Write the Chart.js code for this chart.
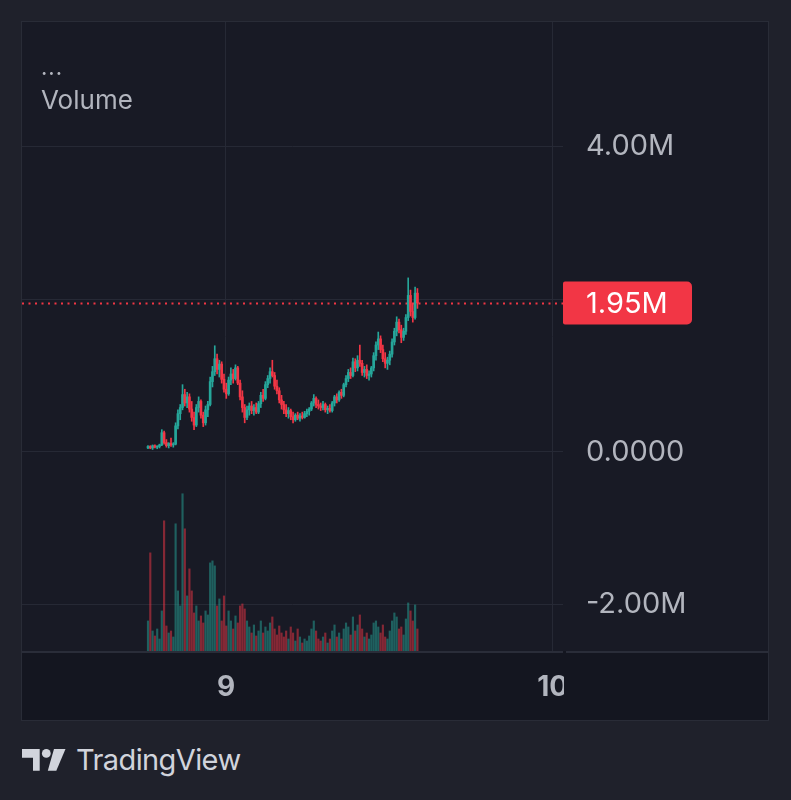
<!DOCTYPE html>
<html><head><meta charset="utf-8">
<script src="https://cdn.jsdelivr.net/npm/chart.js@4.4.1/dist/chart.umd.min.js"></script>
<style>
html,body{margin:0;padding:0;background:#1f212b;width:791px;height:800px;overflow:hidden;font-family:Inter,"Noto Sans",sans-serif}
#panel{position:absolute;left:22px;top:22px;width:746px;height:698px;background:#181a25;box-shadow:0 0 0 1px #292c37}
#c{position:absolute;left:0;top:0}
#dots{position:absolute;left:19px;top:34px;font-size:22px;line-height:22px;color:#b2b5be;letter-spacing:1px}
#vol{position:absolute;left:19px;top:65px;font-size:26px;line-height:26px;color:#b2b5be}
#brand{position:absolute;left:22px;top:742px;height:36px;display:flex;align-items:center;color:#d1d4dc}
#brand span{font-size:29px;line-height:36px;margin-left:10px;letter-spacing:-0.6px}
</style></head>
<body>
<div id="panel"><canvas id="c" width="746" height="698" style="width:746px;height:698px"></canvas>
<div id="dots">...</div><div id="vol">Volume</div></div>
<div id="brand"><svg width="44" height="22" viewBox="0 0 44 22"><path fill="#d1d4dc" d="M0 0H17.7V21.7H11V8.7H0Z"/><circle fill="#d1d4dc" cx="24.3" cy="4.4" r="4.4"/><path fill="#d1d4dc" d="M32 0H43.5L34.3 21.7H25.8Z"/></svg><span>TradingView</span></div>
<script>
// ---- data (price in millions, volume in thousands) ----
const opens  = [0.05,0.07,0.05,0.08,0.06,0.07,0.09,0.25,0.12,0.08,0.11,0.09,0.10,0.34,0.50,0.58,0.75,0.64,0.72,0.56,
0.45,0.35,0.58,0.66,0.48,0.38,0.55,0.62,0.92,1.05,1.22,1.08,1.15,0.95,0.82,0.76,0.94,1.02,0.96,1.10,
0.90,0.72,0.58,0.45,0.55,0.60,0.54,0.58,0.52,0.63,0.74,0.70,0.88,0.96,1.05,1.00,0.86,0.80,0.68,0.62,
0.55,0.50,0.54,0.46,0.42,0.48,0.44,0.47,0.45,0.50,0.53,0.56,0.64,0.70,0.62,0.60,0.58,0.62,0.55,0.57,
0.54,0.64,0.72,0.68,0.78,0.74,0.88,0.96,1.04,1.00,1.18,1.10,1.20,1.16,1.04,1.08,1.00,1.02,1.10,1.26,
1.40,1.48,1.34,1.22,1.16,1.20,1.28,1.44,1.58,1.70,1.60,1.50,1.58,1.76,2.05,1.84,1.76,2.08];
const highs  = [0.08,0.08,0.09,0.09,0.08,0.10,0.29,0.27,0.16,0.12,0.18,0.12,0.38,0.55,0.62,0.88,0.82,0.78,0.76,0.66,
0.52,0.62,0.72,0.68,0.52,0.60,0.66,0.98,1.12,1.39,1.28,1.20,1.18,1.02,0.90,0.98,1.10,1.08,1.14,1.12,
0.94,0.80,0.62,0.60,0.64,0.66,0.62,0.64,0.66,0.78,0.82,0.92,1.00,1.10,1.20,1.04,0.94,0.84,0.74,0.66,
0.62,0.58,0.56,0.52,0.50,0.52,0.50,0.52,0.53,0.56,0.58,0.66,0.75,0.72,0.68,0.64,0.66,0.64,0.60,0.62,
0.66,0.74,0.76,0.80,0.82,0.90,1.00,1.08,1.10,1.23,1.22,1.26,1.40,1.20,1.12,1.14,1.06,1.12,1.30,1.44,
1.57,1.52,1.40,1.30,1.24,1.32,1.48,1.62,1.77,1.74,1.66,1.62,1.80,2.28,2.12,1.94,2.16,2.14];
const lows   = [0.04,0.04,0.03,0.05,0.04,0.05,0.08,0.10,0.06,0.05,0.07,0.06,0.09,0.30,0.42,0.55,0.60,0.58,0.52,0.40,
0.29,0.33,0.52,0.44,0.33,0.35,0.46,0.60,0.85,1.00,1.02,0.98,0.90,0.78,0.70,0.74,0.88,0.90,0.94,0.88,
0.68,0.52,0.38,0.42,0.48,0.50,0.48,0.50,0.50,0.58,0.66,0.68,0.84,0.90,0.98,0.82,0.76,0.64,0.56,0.50,
0.46,0.44,0.42,0.38,0.40,0.42,0.40,0.43,0.44,0.46,0.48,0.54,0.60,0.58,0.56,0.54,0.55,0.52,0.50,0.52,
0.52,0.60,0.64,0.66,0.70,0.72,0.85,0.92,0.96,0.98,1.05,1.06,1.12,1.00,0.98,0.96,0.94,0.98,1.06,1.20,
1.34,1.30,1.18,1.10,1.08,1.14,1.24,1.40,1.52,1.56,1.43,1.46,1.54,1.72,1.78,1.70,1.74,1.88];
const closes = [0.07,0.05,0.08,0.06,0.07,0.09,0.25,0.12,0.08,0.11,0.09,0.10,0.34,0.50,0.58,0.75,0.64,0.72,0.56,0.45,
0.35,0.58,0.66,0.48,0.38,0.55,0.62,0.92,1.05,1.22,1.08,1.15,0.95,0.82,0.76,0.94,1.02,0.96,1.10,0.90,
0.72,0.58,0.45,0.55,0.60,0.54,0.58,0.52,0.63,0.74,0.70,0.88,0.96,1.05,1.00,0.86,0.80,0.68,0.62,0.55,
0.50,0.54,0.46,0.42,0.48,0.44,0.47,0.45,0.50,0.53,0.56,0.64,0.70,0.62,0.60,0.58,0.62,0.55,0.57,0.54,
0.64,0.72,0.68,0.78,0.74,0.88,0.96,1.04,1.00,1.18,1.10,1.20,1.16,1.04,1.08,1.00,1.02,1.10,1.26,1.40,
1.48,1.34,1.22,1.16,1.20,1.28,1.44,1.58,1.70,1.60,1.50,1.58,1.76,2.05,1.84,1.76,2.08,1.95];
const volumes = [150,490,100,75,110,60,200,650,125,90,100,70,635,300,225,785,610,275,410,300,
190,225,150,175,140,200,180,440,450,425,225,260,150,275,125,200,150,110,175,140,
225,235,210,150,120,90,130,75,100,150,90,120,100,140,170,110,80,125,90,70,
100,60,120,90,50,110,70,40,60,50,75,110,150,100,60,50,70,90,40,60,
100,130,70,90,60,110,140,120,80,170,100,130,180,110,70,90,60,80,140,150,
120,90,130,70,60,100,150,190,170,110,120,80,160,240,200,150,230,110];
const timeTicks = [9, 10];          // day-of-month ticks
const timeTickLabels = ["9", "10"];
const priceTicks = [-2, 0, 2, 4];   // millions
const firstCandleDay = 8.7612;      // time of first candle, in days
const candleMinutes = 10.15;

const UP = '#26a69a', DOWN = '#f23645';
const UPV = 'rgba(38,166,154,0.5)', DOWNV = 'rgba(242,54,69,0.5)';
const GRID = '#262935';
const times = closes.map((_, i) => firstCandleDay + i * candleMinutes / 1440);
const isUp = closes.map((c, i) => c >= opens[i]);

const fmtPrice = v => v === 0 ? '0.0000' : v.toFixed(2) + 'M';

const overlay = {
  id: 'tvOverlay',
  beforeDraw(chart) {
    const {ctx, chartArea: a, width, height} = chart;
    ctx.save();
    ctx.fillStyle = '#181a25'; ctx.fillRect(0, 0, width, height);
    ctx.fillStyle = '#141620'; ctx.fillRect(0, a.bottom, width, height - a.bottom);
    ctx.restore();
  },
  beforeDatasetsDraw(chart) {
    const {ctx, chartArea: a, scales} = chart;
    const y = Math.round(scales.y.getPixelForValue(closes[closes.length - 1])) + 0.5;
    ctx.save();
    ctx.strokeStyle = '#f23645'; ctx.lineWidth = 2; ctx.setLineDash([2, 4.5]);
    ctx.beginPath(); ctx.moveTo(a.left, y); ctx.lineTo(a.right, y); ctx.stroke();
    ctx.restore();
  },
  afterDraw(chart) {
    const {ctx, chartArea: a, scales, width, height} = chart;
    ctx.save();
    ctx.fillStyle = '#141620'; ctx.fillRect(a.right + 1, a.bottom + 1, width - a.right - 1, height - a.bottom - 1);
    ctx.fillStyle = '#2a2d39';
    ctx.fillRect(0, a.bottom, a.right, 2);
    ctx.fillRect(a.right + 3, a.bottom, width - a.right - 3, 2);
    const last = closes[closes.length - 1];
    const y = scales.y.getPixelForValue(last);
    ctx.fillStyle = '#f23645';
    ctx.beginPath(); ctx.roundRect(a.right, y - 21.5, 129, 43, [2, 5, 5, 2]); ctx.fill();
    ctx.fillStyle = '#ffffff'; ctx.font = '29px Inter'; ctx.textBaseline = 'middle'; ctx.textAlign = 'left';
    ctx.fillText(fmtPrice(last), a.right + 23, y + 1);
    ctx.restore();
  }
};

const noPad = s => { s.paddingTop = 0; s.paddingBottom = 0; s.paddingLeft = 0; s.paddingRight = 0; };

new Chart(document.getElementById('c'), {
  type: 'bar',
  data: {
    datasets: [
      { label: 'Volume', yAxisID: 'yv', order: 3, grouped: false, barThickness: 1.5,
        data: volumes.map((v, i) => ({x: times[i], y: v})),
        backgroundColor: isUp.map(u => u ? UPV : DOWNV) },
      { label: 'Wick', yAxisID: 'y', order: 2, grouped: false, barThickness: 1,
        data: lows.map((l, i) => ({x: times[i], y: [l, highs[i]]})),
        backgroundColor: isUp.map(u => u ? UP : DOWN) },
      { label: 'Body', yAxisID: 'y', order: 1, grouped: false, barThickness: 2, minBarLength: 1,
        data: opens.map((o, i) => ({x: times[i], y: [o, closes[i]]})),
        backgroundColor: isUp.map(u => u ? UP : DOWN) }
    ]
  },
  options: {
    responsive: false, animation: false, devicePixelRatio: 1,
    layout: { padding: 0 },
    plugins: { legend: { display: false }, tooltip: { enabled: false } },
    scales: {
      x: {
        type: 'linear', min: 9 - 204 / 326.7, max: 9 - 204 / 326.7 + 541 / 326.7,
        offset: false,
        grid: { color: GRID, drawTicks: false, offset: false, lineWidth: 1 },
        border: { display: false },
        afterBuildTicks: s => { s.ticks = timeTicks.map(v => ({value: v})); },
        afterFit: s => { s.height = 69; noPad(s); },
        ticks: { color: '#b2b5be', padding: 20, font: { family: 'Inter', size: 28, weight: 'bold' },
          maxRotation: 0, autoSkip: false,
          callback: v => timeTickLabels[timeTicks.indexOf(v)] }
      },
      y: {
        position: 'right', min: -2.612, max: 5.635,
        grid: { color: GRID, drawTicks: false, lineWidth: 1 },
        border: { display: false },
        afterBuildTicks: s => { s.ticks = priceTicks.map(v => ({value: v})); },
        afterFit: s => { s.width = 205; noPad(s); },
        ticks: { color: '#b2b5be', padding: 23, font: { family: 'Inter', size: 29 },
          callback: v => fmtPrice(v) }
      },
      yv: { display: false, min: 0, max: 3140 }
    }
  },
  plugins: [overlay]
});
</script>
</body></html>
